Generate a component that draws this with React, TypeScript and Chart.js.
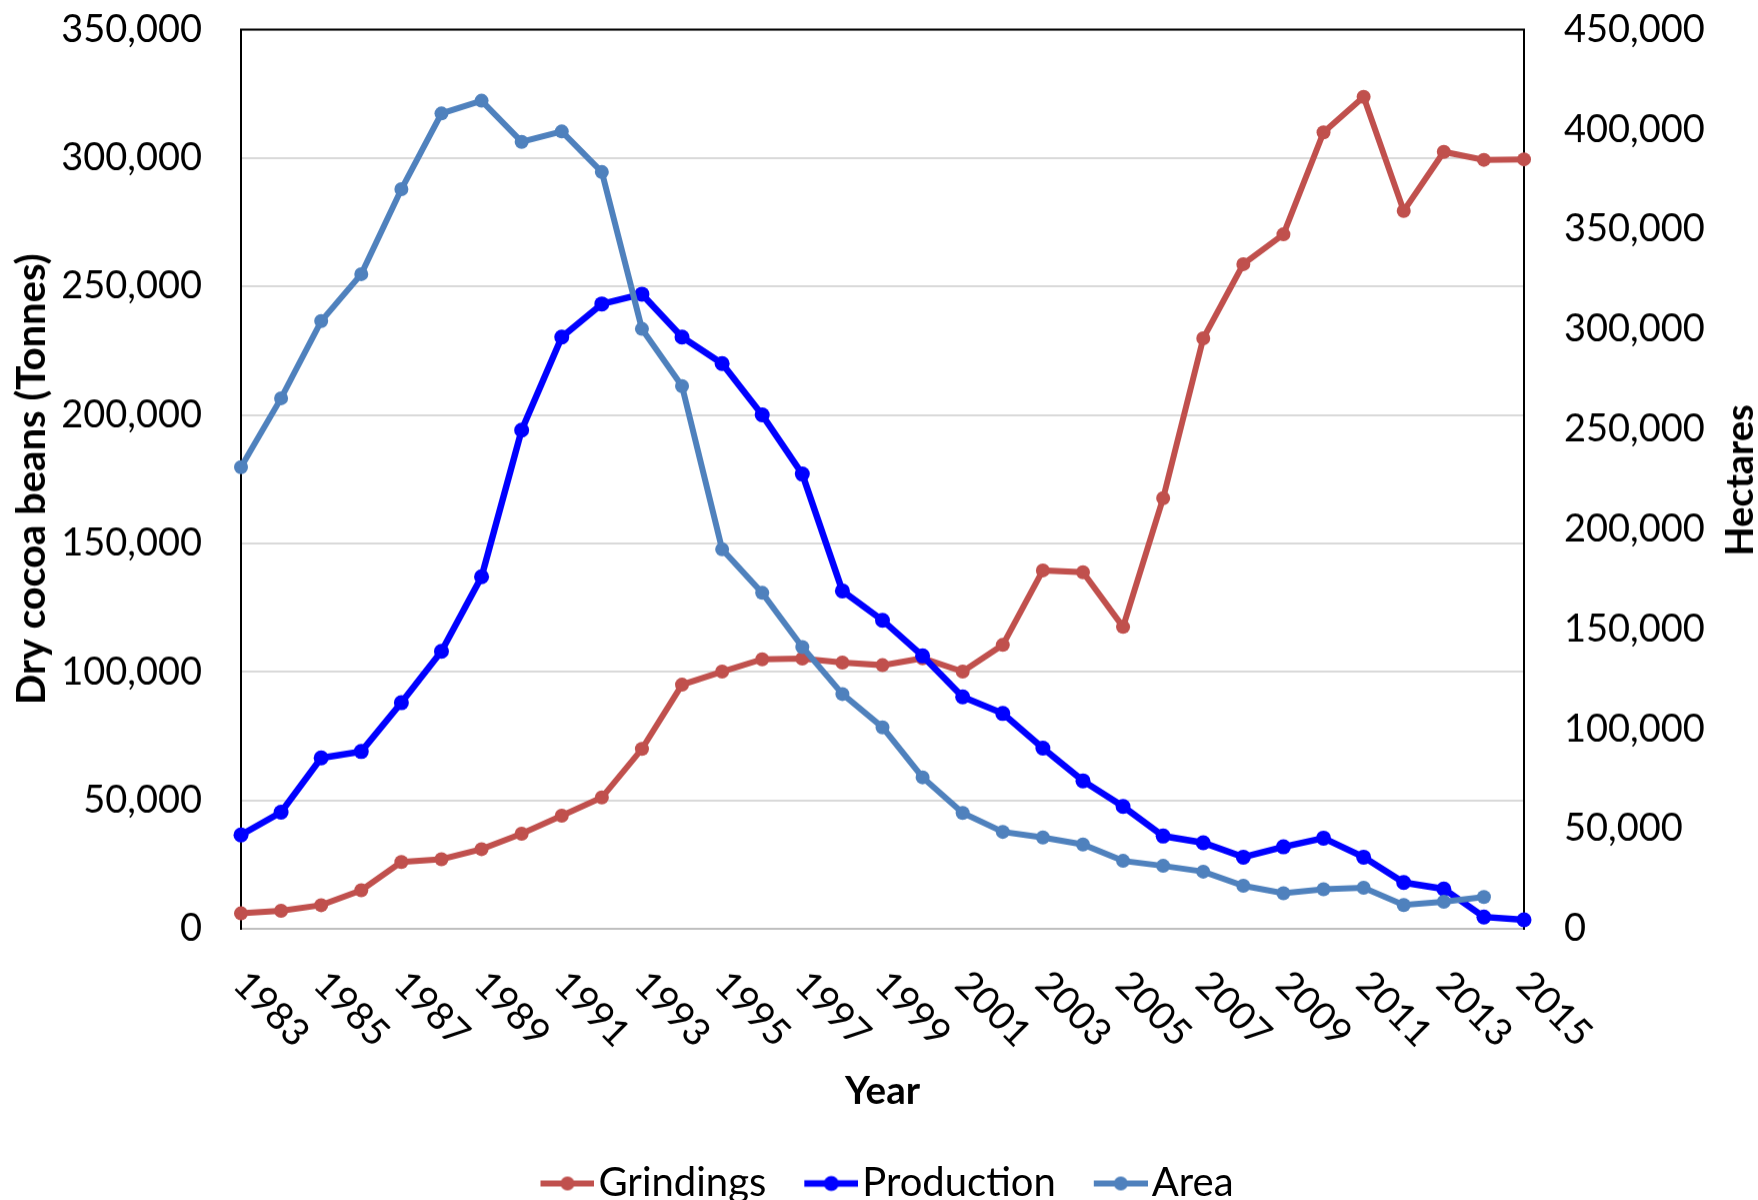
import React, { useEffect, useRef } from "react";
import { Chart, registerables } from "chart.js";

Chart.register(...registerables);

const years = [
  "1983", "1984", "1985", "1986", "1987", "1988", "1989", "1990", "1991", "1992", "1993",
  "1994", "1995", "1996", "1997", "1998", "1999", "2000", "2001", "2002", "2003", "2004",
  "2005", "2006", "2007", "2008", "2009", "2010", "2011", "2012", "2013", "2014", "2015",
];

// Dry cocoa beans (tonnes) - left axis
const grindings = [
  6000, 7000, 9200, 15000, 26000, 27100, 31000, 37000, 44000, 51100, 70000,
  95000, 100100, 104900, 105200, 103600, 102600, 105300, 100100, 110500, 139500, 138800,
  117500, 167600, 229800, 258700, 270300, 310000, 323800, 279400, 302400, 299300, 299500,
];

const production = [
  36500, 45400, 66500, 69000, 88000, 108000, 137000, 194100, 230300, 243200, 247000,
  230300, 220000, 200000, 177000, 131500, 120100, 106200, 90300, 83800, 70300, 57600,
  47600, 36100, 33500, 27900, 31900, 35300, 27900, 18000, 15500, 4600, 3500,
];

// Hectares - right axis
const area = [
  231000, 265500, 304100, 327600, 370100, 408000, 414400, 393800, 399000, 378700, 300200,
  271600, 189900, 168100, 141000, 117500, 100800, 75800, 58000, 48500, 45700, 42200,
  34000, 31500, 28600, 21500, 17800, 19800, 20500, 11900, 13500, 15900, null,
];

const xTickLabels = [
  "1983", "1985", "1987", "1989", "1991", "1993", "1995", "1997", "1999",
  "2001", "2003", "2005", "2007", "2009", "2011", "2013", "2015",
];

const seriesNames = ["Grindings", "Production", "Area"];
const seriesColors = ["#C0504D", "#0000FF", "#4F81BD"];

const FONT = "Lato";

// legend icon: line with a round marker, drawn in the right part of a wider canvas
function makeLegendIcon(color: string, lw: number, r: number) {
  const c = document.createElement("canvas");
  const shift = 32;
  c.width = 54 + shift;
  c.height = 18;
  const g = c.getContext("2d")!;
  g.strokeStyle = color;
  g.lineWidth = lw;
  g.beginPath();
  g.moveTo(shift, 9);
  g.lineTo(shift + 54, 9);
  g.stroke();
  g.fillStyle = color;
  g.beginPath();
  g.arc(shift + 27, 9, r, 0, Math.PI * 2);
  g.fill();
  return c;
}

export default function App() {
  const ref = useRef<HTMLCanvasElement | null>(null);

  useEffect(() => {
    if (!ref.current) return;
    const icons = [
      makeLegendIcon(seriesColors[0], 6, 7),
      makeLegendIcon(seriesColors[1], 6.5, 7.5),
      makeLegendIcon(seriesColors[2], 6, 7),
    ];

    const extras = {
      id: "extras",
      afterDraw(chart: any) {
        const { ctx, chartArea, scales } = chart;
        ctx.save();
        // top border of plot area
        ctx.strokeStyle = "#000";
        ctx.lineWidth = 2;
        ctx.beginPath();
        ctx.moveTo(chartArea.left - 1, chartArea.top);
        ctx.lineTo(chartArea.right + 1, chartArea.top);
        ctx.stroke();

        // rotated x tick labels
        ctx.font = `38px ${FONT}`;
        ctx.fillStyle = "#000";
        ctx.textAlign = "left";
        ctx.textBaseline = "middle";
        xTickLabels.forEach((lbl) => {
          const idx = years.indexOf(lbl);
          const px = scales.x.getPixelForValue(idx);
          ctx.save();
          ctx.translate(px - 1, chartArea.bottom + 49);
          ctx.rotate(Math.PI / 4);
          ctx.fillText(lbl, 0, 0);
          ctx.restore();
        });

        // right axis title (reads bottom to top)
        ctx.font = `bold 38px ${FONT}`;
        ctx.textAlign = "center";
        ctx.textBaseline = "middle";
        ctx.translate(1741, (chartArea.top + chartArea.bottom) / 2 + 1);
        ctx.rotate(-Math.PI / 2);
        ctx.fillText("Hectares", 0, 0);
        ctx.restore();
      },
    };

    const chart = new Chart(ref.current, {
      type: "line",
      data: {
        labels: years,
        datasets: [
          {
            label: seriesNames[0],
            data: grindings,
            yAxisID: "y",
            borderColor: seriesColors[0],
            backgroundColor: seriesColors[0],
            pointBackgroundColor: seriesColors[0],
            borderWidth: 6,
            pointRadius: 7,
            pointBorderWidth: 0,
            tension: 0,
            clip: false as any,
            order: 3,
          },
          {
            label: seriesNames[1],
            data: production,
            yAxisID: "y",
            borderColor: seriesColors[1],
            backgroundColor: seriesColors[1],
            pointBackgroundColor: seriesColors[1],
            borderWidth: 6.5,
            pointRadius: 7.5,
            pointBorderWidth: 0,
            tension: 0,
            clip: false as any,
            order: 2,
          },
          {
            label: seriesNames[2],
            data: area,
            yAxisID: "y1",
            borderColor: seriesColors[2],
            backgroundColor: seriesColors[2],
            pointBackgroundColor: seriesColors[2],
            borderWidth: 6,
            pointRadius: 7,
            pointBorderWidth: 0,
            tension: 0,
            clip: false as any,
            order: 1,
          },
        ],
      },
      options: {
        animation: false,
        responsive: true,
        maintainAspectRatio: false,
        devicePixelRatio: 1,
        layout: { padding: { top: 29.5, left: 0, right: 0, bottom: 0 } },
        plugins: {
          tooltip: { enabled: false },
          legend: {
            display: true,
            position: "bottom",
            labels: {
              font: { family: FONT, size: 40 },
              color: "#000",
              usePointStyle: true,
              pointStyleWidth: 54,
              padding: 22,
              sort: (a: any, b: any) => a.datasetIndex - b.datasetIndex,
              generateLabels: (ch: any) => {
                const items = (Chart.defaults.plugins.legend.labels as any).generateLabels(ch);
                return items.map((it: any) => ({ ...it, pointStyle: icons[it.datasetIndex] }));
              },
            },
          },
        },
        scales: {
          x: {
            type: "category",
            offset: false,
            grid: { display: false, drawTicks: false },
            ticks: { display: false },
            border: { display: true, color: "#BFBFBF", width: 2 },
            title: {
              display: true,
              text: "Year",
              color: "#000",
              font: { family: FONT, size: 38.5, weight: "bold" },
              padding: { top: 0, bottom: 26.5 },
            },
            afterFit: (s: any) => {
              s.height = 212.5;
            },
          },
          y: {
            position: "left",
            min: 0,
            max: 350000,
            ticks: {
              stepSize: 50000,
              color: "#000",
              font: { family: FONT, size: 38 },
              padding: 39,
              callback: (v: any) => Number(v).toLocaleString("en-US"),
            },
            grid: { color: "#D9D9D9", lineWidth: 2, drawTicks: false },
            border: { display: true, color: "#000", width: 2 },
            title: {
              display: true,
              text: "Dry cocoa beans (Tonnes)",
              color: "#000",
              font: { family: FONT, size: 40, weight: "bold" },
              padding: { top: 8, bottom: 0 },
            },
            afterFit: (s: any) => {
              s.width = 241;
              s.paddingTop = 20;
              s.paddingBottom = 20;
            },
          },
          y1: {
            position: "right",
            min: 0,
            max: 450000,
            ticks: {
              stepSize: 50000,
              color: "#000",
              font: { family: FONT, size: 38 },
              padding: 40,
              callback: (v: any) => Number(v).toLocaleString("en-US"),
            },
            grid: { drawOnChartArea: false, drawTicks: false },
            border: { display: true, color: "#000", width: 2 },
            afterFit: (s: any) => {
              s.width = 234;
              s.paddingTop = 20;
              s.paddingBottom = 20;
            },
          },
        },
      },
      plugins: [extras],
    });

    return () => chart.destroy();
  }, []);

  return (
    <div
      style={{
        position: "fixed",
        left: 0,
        top: 0,
        width: 1758,
        height: 1200,
        overflow: "hidden",
        background: "#fff",
      }}
    >
      <div style={{ position: "relative", width: 1758, height: 1212.5 }}>
        <canvas ref={ref} />
      </div>
    </div>
  );
}
